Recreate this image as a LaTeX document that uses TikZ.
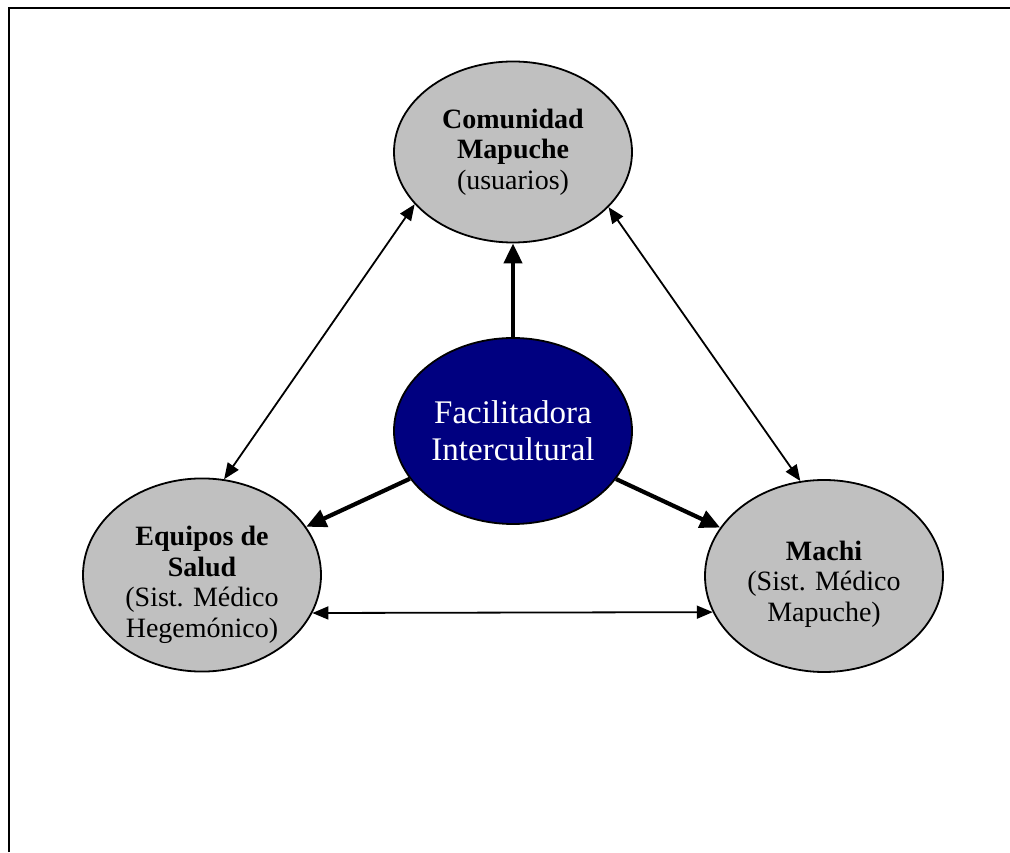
\documentclass[tikz,border=0pt]{standalone}
\usepackage{fontspec}
\setmainfont{Liberation Serif}
\usetikzlibrary{shapes.geometric,arrows.meta}
\definecolor{greyfill}{HTML}{C0C0C0}
\definecolor{navyfill}{HTML}{000080}
\tikzset{
  actor/.style={ellipse, draw=black, line width=1.8pt, fill=greyfill, inner sep=0pt,
    minimum width=238pt, align=center, font=\fontsize{28}{30.5}\selectfont},
  hub/.style={ellipse, draw=black, line width=1.8pt, fill=navyfill, inner sep=0pt,
    minimum width=238pt, minimum height=186pt, align=center, text=white,
    font=\fontsize{33}{37}\selectfont},
  thinlink/.style={line width=1.8pt, {Triangle[length=16pt,width=13pt]}-{Triangle[length=16pt,width=13pt]}},
  thicklink/.style={line width=4.2pt, -{Triangle[length=20pt,width=18pt]}},
  frameline/.style={line width=2.2pt, black}
}
\begin{document}
\begin{tikzpicture}[x=1pt,y=1pt]
\useasboundingbox (0,0) rectangle (1010,852);
\draw[frameline] (9,0) -- (9,844) -- (1010,844);

\node[actor, minimum height=181pt] (C) at (513,700) {\textbf{Comunidad}\\\textbf{Mapuche}\\(usuarios)};
\node[hub] (F) at (513,421) {Facilitadora\\Intercultural};
\node[actor, minimum height=185pt] (E) at (202,277) {\rule{0pt}{39pt}\textbf{Equipos de}\\\textbf{Salud}\\(Sist. Médico\\Hegemónico)};
\node[actor, minimum height=192pt] (M) at (824,276) {\rule{0pt}{35pt}\textbf{Machi}\\(Sist. Médico\\Mapuche)};

\draw[thicklink] (F) -- (C);
\draw[thicklink] (F) -- (E);
\draw[thicklink] (F) -- (M);

\draw[thinlink] (C.208) -- (E.77);
\draw[thinlink] (C.330) -- (M.104);
\draw[thinlink] (E.-19.4) -- (M.198.6);
\end{tikzpicture}
\end{document}
